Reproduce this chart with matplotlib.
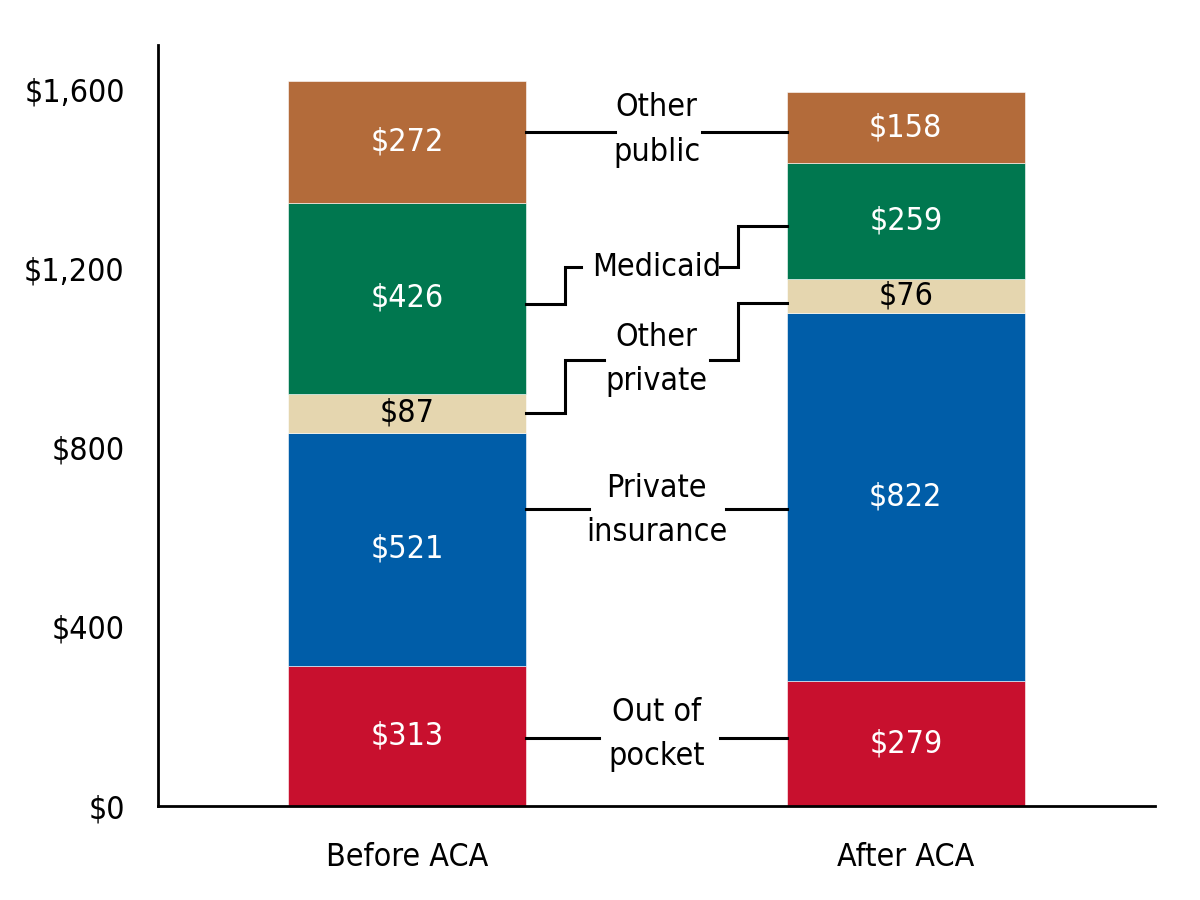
import matplotlib.pyplot as plt
from matplotlib.ticker import FuncFormatter

plt.rcParams['font.family'] = ['DejaVu Sans']
plt.rcParams['font.stretch'] = 'condensed'

# ---------- DATA ----------
periods = ["Before ACA", "After ACA"]
sources = ["Out of\npocket", "Private\ninsurance", "Other\nprivate", "Medicaid", "Other\npublic"]
before_vals = [313, 521, 87, 426, 272]
after_vals = [279, 822, 76, 259, 158]
colors = ["#C8102E", "#005DA8", "#E5D6AF", "#00774F", "#B36B3A"]
text_colors = ["white", "white", "black", "white", "white"]
yticks = [0, 400, 800, 1200, 1600]

# ---------- LABEL LAYOUT (left y, text y, right y, left stop, right start) ----------
label_layout = [
    (152, 159, 152, 0.384, 0.627),
    (664, 661, 664, 0.364, 0.639),
    (878, 997, 1124, 0.394, 0.607),
    (1122, 1204, 1296, 0.348, 0.627),
    (1506, 1510, 1506, 0.416, 0.591),
]
elbow_left = 0.316
elbow_right = 0.663
bar_w = 0.478

fig = plt.figure(figsize=(12, 9), dpi=100)
ax = fig.add_axes([0.1317, 0.1044, 0.8308, 0.8456])

for i, vals in enumerate([before_vals, after_vals]):
    bottom = 0
    for j, v in enumerate(vals):
        ax.bar(i, v, bar_w, bottom=bottom, color=colors[j], edgecolor="white", linewidth=0.4)
        ax.text(i, bottom + v / 2, f"${v}", ha="center", va="center",
                fontsize=23, color=text_colors[j])
        bottom += v

# ---------- CONNECTOR LABELS ----------
left_edge = bar_w / 2
right_edge = 1 - bar_w / 2
for name, (yl, yt, yr, xs, xe) in zip(sources, label_layout):
    ax.text(0.5, yt, name, ha="center", va="center", fontsize=23, linespacing=1.55)
    if abs(yl - yt) < 15 and abs(yr - yt) < 15:
        ax.plot([left_edge, xs], [yl, yl], color="black", lw=2.2)
        ax.plot([xe, right_edge], [yr, yr], color="black", lw=2.2)
    else:
        ax.plot([left_edge, elbow_left, elbow_left, xs], [yl, yl, yt, yt],
                color="black", lw=2.2, solid_joinstyle="miter")
        ax.plot([xe, elbow_right, elbow_right, right_edge], [yt, yt, yr, yr],
                color="black", lw=2.2, solid_joinstyle="miter")

ax.set_xlim(-0.5, 1.5)
ax.set_ylim(0, 1700)
ax.set_xticks([0, 1])
ax.set_xticklabels(periods)
ax.set_yticks(yticks)
ax.yaxis.set_major_formatter(FuncFormatter(lambda v, p: f"${v:,.0f}"))
ax.tick_params(axis="both", length=0, labelsize=23, pad=24)
ax.tick_params(axis="x", pad=26)
for s in ["top", "right"]:
    ax.spines[s].set_visible(False)
for s in ["left", "bottom"]:
    ax.spines[s].set_linewidth(2)

fig.savefig("out.png", dpi=100)
